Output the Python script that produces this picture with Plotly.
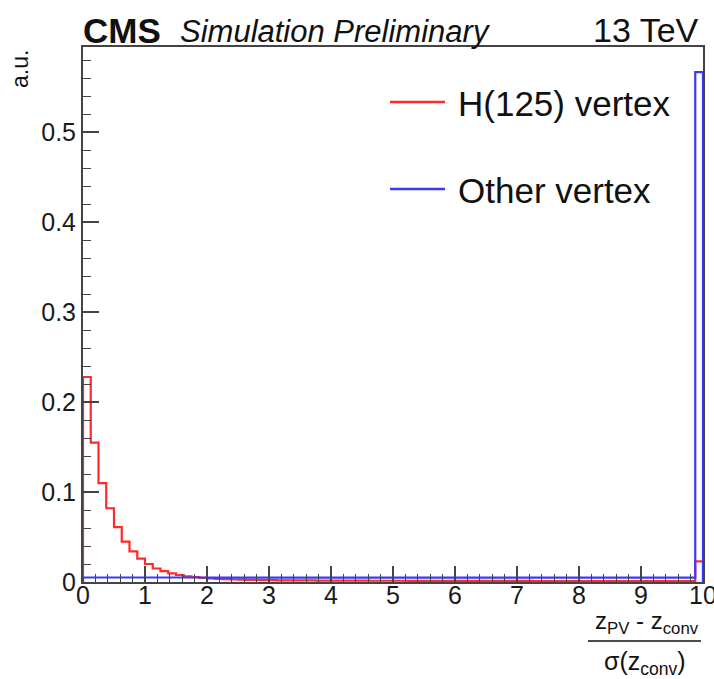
import numpy as np
import plotly.graph_objects as go

# ---- data ----
x_min, x_max, n_bins = 0.0, 10.0, 80
bin_edges = np.linspace(x_min, x_max, n_bins + 1)

h125_values = [
    0.228, 0.155, 0.110, 0.082, 0.061, 0.045, 0.034, 0.026, 0.020, 0.015,
    0.0120, 0.0095, 0.0078, 0.0064, 0.0054, 0.0046, 0.0040, 0.0035, 0.0031, 0.0028,
    0.0026, 0.0024, 0.0022, 0.0021, 0.0020, 0.0019, 0.0018, 0.0018, 0.0017, 0.0017,
    0.0016, 0.0016, 0.0016, 0.0015, 0.0015, 0.0015, 0.0015, 0.0014, 0.0014, 0.0014,
    0.0014, 0.0014, 0.0013, 0.0013, 0.0013, 0.0013, 0.0013, 0.0013, 0.0013, 0.0012,
    0.0012, 0.0012, 0.0012, 0.0012, 0.0012, 0.0012, 0.0012, 0.0012, 0.0011, 0.0011,
    0.0011, 0.0011, 0.0011, 0.0011, 0.0011, 0.0011, 0.0011, 0.0011, 0.0011, 0.0011,
    0.0011, 0.0011, 0.0010, 0.0010, 0.0010, 0.0010, 0.0010, 0.0010, 0.0010, 0.023,
]
other_values = [
    0.0050, 0.0050, 0.0050, 0.0050, 0.0050, 0.0050, 0.0050, 0.0050, 0.0050, 0.0050,
    0.0050, 0.0050, 0.0050, 0.0050, 0.0050, 0.0050, 0.0049, 0.0049, 0.0049, 0.0049,
    0.0049, 0.0049, 0.0049, 0.0049, 0.0049, 0.0049, 0.0049, 0.0049, 0.0049, 0.0049,
    0.0049, 0.0049, 0.0049, 0.0049, 0.0049, 0.0049, 0.0049, 0.0049, 0.0049, 0.0049,
    0.0049, 0.0049, 0.0049, 0.0049, 0.0049, 0.0049, 0.0049, 0.0049, 0.0049, 0.0049,
    0.0049, 0.0049, 0.0049, 0.0049, 0.0049, 0.0049, 0.0049, 0.0049, 0.0049, 0.0049,
    0.0049, 0.0049, 0.0049, 0.0049, 0.0049, 0.0049, 0.0049, 0.0049, 0.0049, 0.0049,
    0.0049, 0.0049, 0.0049, 0.0049, 0.0049, 0.0049, 0.0049, 0.0049, 0.0049, 0.567,
]
series_names = ["H(125) vertex", "Other vertex"]
series_colors = ["#ff2a2a", "#3a3aff"]
y_ticks = [0, 0.1, 0.2, 0.3, 0.4, 0.5]
x_ticks = [0, 1, 2, 3, 4, 5, 6, 7, 8, 9, 10]

FONT = "Liberation Sans, Arial, Helvetica, sans-serif"


def step_xy(edges, vals):
    xs = [edges[0]] + list(edges[:-1]) + [edges[-1], edges[-1]]
    ys = [0.0] + list(vals) + [vals[-1], 0.0]
    return xs, ys


fig = go.Figure()
for name, vals, col in zip(series_names, [h125_values, other_values], series_colors):
    xs, ys = step_xy(bin_edges, vals)
    fig.add_trace(go.Scatter(x=xs, y=ys, mode="lines", line=dict(color=col, width=2.2, shape="hv"),
                             name=name, showlegend=False, cliponaxis=True))

W, H = 714, 679
L, R, T, B = 83, 11, 47, 97
pw, ph = W - L - R, H - T - B


def px(x):
    return (x - L) / pw


def py(y):
    return (H - B - y) / ph


fig.update_layout(
    width=W, height=H,
    margin=dict(l=L, r=R, t=T, b=B),
    paper_bgcolor="white", plot_bgcolor="white",
    font=dict(family=FONT, color="#1a1a1a"),
    showlegend=False,
)
axis_common = dict(showgrid=False, zeroline=False, showline=True, mirror=True, linecolor="#444",
                   linewidth=2, ticks="inside", tickcolor="#444", tickwidth=1.5,
                   tickfont=dict(size=25, family=FONT, color="#1a1a1a"), automargin=False)
fig.update_xaxes(range=[x_min, x_max], tickvals=x_ticks, ticklen=16, ticklabeloverflow="allow",
                 ticklabelstandoff=-10,
                 minor=dict(dtick=0.2, ticklen=8, ticks="inside", tickcolor="#444", tickwidth=1.2),
                 **axis_common)
fig.update_yaxes(range=[0, 0.595], tickvals=y_ticks, ticktext=[str(v) for v in y_ticks], ticklen=16,
                 minor=dict(dtick=0.02, ticklen=8, ticks="inside", tickcolor="#444", tickwidth=1.2),
                 **axis_common)

ann = []
# header
ann.append(dict(text="<b>CMS</b>", x=px(81), y=py(30), xref="paper", yref="paper", xanchor="left",
                yanchor="middle", showarrow=False, font=dict(size=35, family=FONT, color="#111")))
ann.append(dict(text="<i>Simulation Preliminary</i>", x=px(178), y=py(31), xref="paper", yref="paper",
                xanchor="left", yanchor="middle", showarrow=False, font=dict(size=31, family=FONT, color="#111")))
ann.append(dict(text="13 TeV", x=px(701), y=py(30), xref="paper", yref="paper", xanchor="right",
                yanchor="middle", showarrow=False, font=dict(size=34, family=FONT, color="#111")))
# y title
ann.append(dict(text="a.u.", x=px(20), y=py(48), xref="paper", yref="paper", xanchor="center",
                yanchor="top", textangle=-90, showarrow=False, font=dict(size=23, family=FONT, color="#111")))
# x title (fraction)
ann.append(dict(text="z<sub>PV</sub> - z<sub>conv</sub>", x=px(647), y=py(622), xref="paper", yref="paper",
                xanchor="center", yanchor="middle", showarrow=False, font=dict(size=24, family=FONT, color="#111")))
ann.append(dict(text="σ(z<sub>conv</sub>)", x=px(645), y=py(663), xref="paper", yref="paper",
                xanchor="center", yanchor="middle", showarrow=False, font=dict(size=25, family=FONT, color="#111")))
# legend texts
ann.append(dict(text=series_names[0], x=px(456), y=py(103), xref="paper", yref="paper", xanchor="left",
                yanchor="middle", showarrow=False, font=dict(size=35, family=FONT, color="#111")))
ann.append(dict(text=series_names[1], x=px(456), y=py(190), xref="paper", yref="paper", xanchor="left",
                yanchor="middle", showarrow=False, font=dict(size=35, family=FONT, color="#111")))
fig.update_layout(annotations=ann)

shapes = [
    dict(type="line", xref="paper", yref="paper", x0=px(588), x1=px(701), y0=py(641), y1=py(641),
         line=dict(color="#111", width=1.5)),
    dict(type="line", xref="paper", yref="paper", x0=px(390), x1=px(445), y0=py(102), y1=py(102),
         line=dict(color=series_colors[0], width=2.5)),
    dict(type="line", xref="paper", yref="paper", x0=px(390), x1=px(445), y0=py(189), y1=py(189),
         line=dict(color=series_colors[1], width=2.5)),
]
fig.update_layout(shapes=shapes)

fig.write_html("out.html")
